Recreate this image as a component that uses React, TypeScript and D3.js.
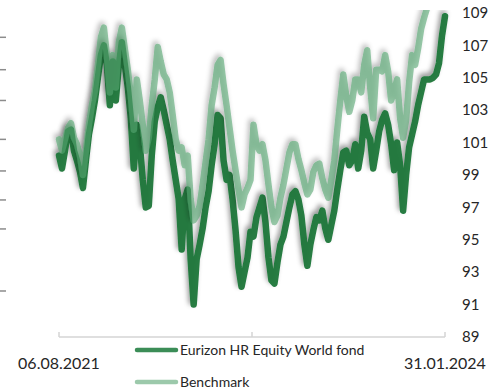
import React from "react";
import * as d3 from "d3";

const startDate = new Date(2021, 7, 6);
const endDate = new Date(2024, 0, 31);
const dateLabels = ["06.08.2021", "31.01.2024"];
const yTickValues = [89, 91, 93, 95, 97, 99, 101, 103, 105, 107, 109];
const leftGhostTicks = [107.5, 105.5, 103.6, 101.2, 99.25, 97.46, 95.67, 91.84];
const seriesNames = ["Eurizon HR Equity World fond", "Benchmark"];

const fundValues = [
  100.2, 99.4, 100.5, 101.7, 101.8, 100.5, 99.9, 99.2, 98.2, 99.9,
  101.5, 102.5, 103.6, 105.0, 106.4, 107.0, 105.8, 103.3, 106.0, 103.6,
  105.8, 107.2, 105.8, 104.4, 102.5, 99.4, 102.1, 100.9, 98.7, 97.0,
  97.1, 100.2, 102.3, 103.2, 103.8, 103.0, 102.1, 101.2, 99.9, 98.7,
  97.5, 94.4, 97.5, 98.1, 93.8, 91.0, 93.8, 94.7, 95.7, 97.0,
  98.0, 99.6, 100.9, 102.7, 102.5, 99.9, 98.7, 99.0, 97.5, 95.6,
  93.3, 92.1, 93.0, 93.9, 95.5, 95.2, 96.4, 97.0, 97.6, 96.1,
  93.9, 92.5, 92.3, 93.6, 94.7, 95.2, 96.1, 97.0, 97.8, 98.0,
  97.5, 96.5, 94.7, 93.4, 94.7, 95.6, 96.4, 96.2, 96.8, 95.7,
  95.0, 95.9, 96.8, 98.1, 99.3, 100.4, 100.5, 99.6, 99.9, 100.9,
  99.4, 100.5, 102.6, 101.6, 101.2, 99.4, 100.5, 101.7, 102.4, 102.8,
  102.1, 100.9, 99.3, 101.0, 99.6, 96.8, 99.0, 100.7, 101.5, 102.3,
  103.3, 104.1, 104.9, 104.9, 104.9, 105.0, 105.2, 105.9, 107.6, 108.8,
];

const benchmarkValues = [
  101.2, 100.5, 101.2, 101.9, 102.2, 101.3, 100.9, 100.2, 99.0, 100.5,
  102.1, 103.3, 104.2, 105.8, 107.5, 108.1, 106.4, 104.1, 106.4, 104.4,
  107.2, 108.1, 106.8, 105.5, 103.9, 101.8, 104.9, 103.6, 102.1, 100.5,
  101.3, 103.3, 104.9, 106.9, 106.0, 105.2, 104.9, 104.1, 102.7, 101.2,
  100.5, 100.7, 99.6, 100.2, 97.5, 96.2, 96.5, 97.1, 98.4, 99.8,
  101.2, 103.3, 104.4, 105.8, 106.1, 104.6, 103.3, 101.9, 100.5, 99.3,
  98.1, 97.0, 97.8, 98.2, 98.7, 102.1, 100.9, 100.5, 100.9, 99.9,
  98.4, 97.0, 96.1, 96.5, 97.6, 98.4, 99.4, 100.4, 100.9, 100.9,
  100.0, 99.3, 98.5, 97.8, 98.1, 99.2, 99.6, 99.7, 98.8, 98.1,
  97.6, 98.7, 99.9, 101.8, 103.6, 105.2, 103.9, 102.9, 103.6, 104.9,
  104.9, 104.1, 105.8, 106.7, 104.4, 102.5, 105.5, 105.5, 105.4, 106.4,
  105.4, 103.6, 104.2, 104.9, 102.5, 101.3, 102.4, 104.7, 106.4, 105.8,
  106.8, 108.0, 108.7, 109.3, 109.6, 109.8, 110.0, 110.2, 110.3, 110.5,
];

const fundColor = "#1a7638";
const benchColor = "#55a572";
const fundLegend = "#3b8d57";
const benchLegend = "#9cc9ab";

const W = 502;
const H = 391;

export default function App() {
  const x = d3.scaleTime().domain([startDate, endDate]).range([59, 445]);
  const y = d3.scaleLinear().domain([89, 109]).range([337, 13]);
  const n = fundValues.length;
  const dateAt = (i: number, len: number) =>
    new Date(startDate.getTime() + (i * (endDate.getTime() - startDate.getTime())) / (len - 1));

  const line = d3
    .line<number>()
    .x((_, i) => x(dateAt(i, n)))
    .y((d) => y(d))
    .curve(d3.curveLinear);

  const midDate = new Date((startDate.getTime() + endDate.getTime()) / 2);
  const xTicks = [startDate, midDate, endDate];
  const font = "Lato, 'Open Sans', sans-serif";
  const textColor = "#262626";

  return (
    <svg width={W} height={H} style={{ position: "absolute", left: 0, top: 0 }} fontFamily={font}>
      <defs>
        <clipPath id="plotClip">
          <rect x={40} y={10} width={420} height={340} />
        </clipPath>
        <filter id="shadow" x="-10%" y="-10%" width="120%" height="120%">
          <feGaussianBlur in="SourceAlpha" stdDeviation="2.6" result="blur" />
          <feOffset in="blur" dx="-2" dy="-3" result="off" />
          <feFlood floodColor="#000" floodOpacity="0.42" result="col" />
          <feComposite in="col" in2="off" operator="in" result="shadow" />
          <feMerge>
            <feMergeNode in="shadow" />
            <feMergeNode in="SourceGraphic" />
          </feMerge>
        </filter>
      </defs>

      {leftGhostTicks.map((v, i) => (
        <line key={i} x1={0} x2={6} y1={y(v)} y2={y(v)} stroke="#8c8c8c" strokeWidth={1.5} />
      ))}

      <line x1={x(startDate)} x2={x(endDate)} y1={y(89)} y2={y(89)} stroke="#d4d4d4" strokeWidth={1.5} />
      {xTicks.map((d, i) => (
        <line key={i} x1={x(d)} x2={x(d)} y1={y(89) - 5} y2={y(89)} stroke="#d4d4d4" strokeWidth={1.5} />
      ))}

      <g clipPath="url(#plotClip)">
        <path
          d={line(fundValues) || ""}
          fill="none"
          stroke={fundColor}
          strokeOpacity={0.95}
          strokeWidth={6.5}
          strokeLinejoin="round"
          strokeLinecap="round"
          filter="url(#shadow)"
        />
        <path
          d={line(benchmarkValues) || ""}
          fill="none"
          stroke={benchColor}
          strokeOpacity={0.6}
          strokeWidth={6.5}
          strokeLinejoin="round"
          strokeLinecap="round"
          filter="url(#shadow)"
        />
      </g>

      {yTickValues.map((v) => (
        <text key={v} x={462} y={y(v)} dy="0.35em" fontSize={15} fill={textColor}>
          {v}
        </text>
      ))}

      <text x={x(startDate)} y={363} dy="0.35em" fontSize={16} textAnchor="middle" fill={textColor}>
        {dateLabels[0]}
      </text>
      <text x={x(endDate)} y={363} dy="0.35em" fontSize={16} textAnchor="middle" fill={textColor}>
        {dateLabels[1]}
      </text>

      <line x1={137} x2={176} y1={350} y2={350} stroke={fundLegend} strokeWidth={4.5} strokeLinecap="round" />
      <text x={180} y={350} dy="0.35em" fontSize={14} fill={textColor}>
        {seriesNames[0]}
      </text>
      <line x1={137} x2={176} y1={382} y2={382} stroke={benchLegend} strokeWidth={4.5} strokeLinecap="round" />
      <text x={180} y={382} dy="0.35em" fontSize={14} fill={textColor}>
        {seriesNames[1]}
      </text>
    </svg>
  );
}
